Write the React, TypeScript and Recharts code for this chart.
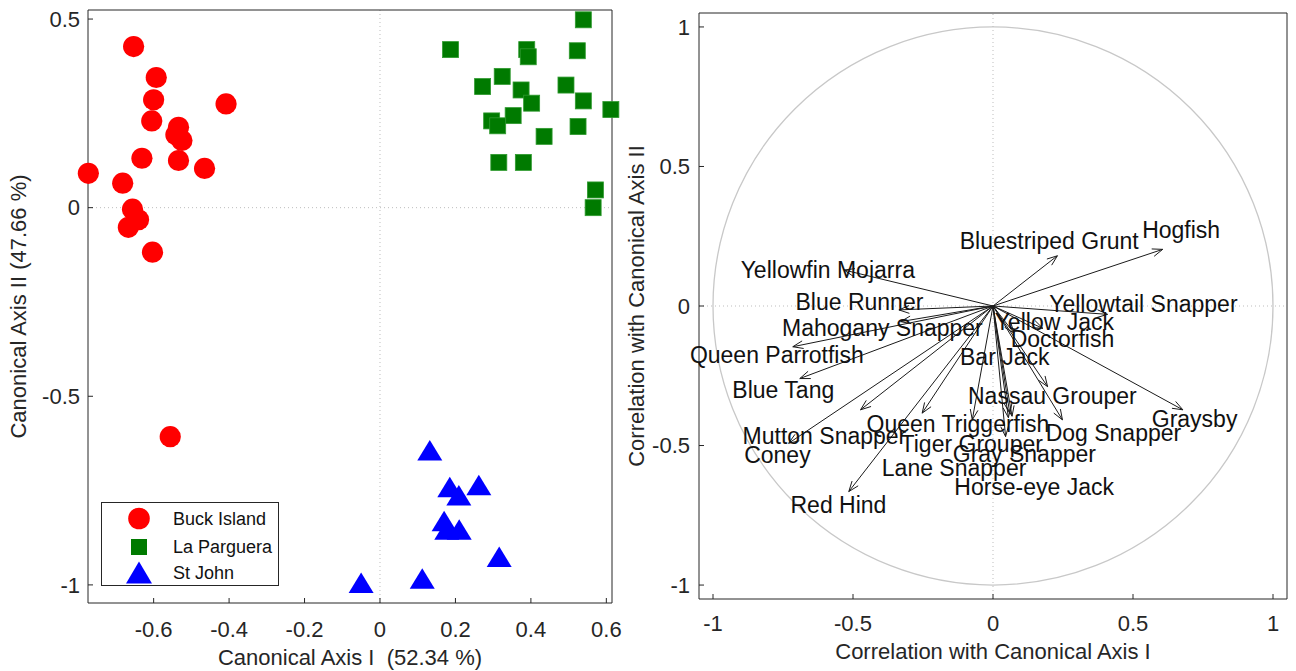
import React from 'react';
import {
  ScatterChart,
  Scatter,
  XAxis,
  YAxis,
  ReferenceLine,
  ReferenceArea,
  Legend,
  Label,
} from 'recharts';

// ---------- data: left panel (canonical scores) ----------
const buckIsland: [number, number][] = [
  [-0.653, 0.427], [-0.593, 0.345], [-0.6, 0.286], [-0.605, 0.23], [-0.408, 0.275],
  [-0.534, 0.213], [-0.541, 0.193], [-0.525, 0.178], [-0.534, 0.125], [-0.631, 0.131],
  [-0.465, 0.104], [-0.773, 0.091], [-0.682, 0.065], [-0.656, -0.004], [-0.64, -0.032],
  [-0.667, -0.052], [-0.603, -0.118], [-0.556, -0.607],
];
const laParguera: [number, number][] = [
  [0.539, 0.498], [0.187, 0.419], [0.389, 0.419], [0.393, 0.4], [0.523, 0.416],
  [0.324, 0.348], [0.272, 0.321], [0.493, 0.325], [0.374, 0.312], [0.539, 0.283],
  [0.402, 0.277], [0.612, 0.26], [0.353, 0.244], [0.296, 0.23], [0.312, 0.217],
  [0.525, 0.215], [0.435, 0.189], [0.315, 0.12], [0.38, 0.12], [0.571, 0.047],
  [0.565, 0.0],
];
const stJohn: [number, number][] = [
  [0.132, -0.644], [0.185, -0.741], [0.262, -0.736], [0.209, -0.763], [0.17, -0.831],
  [0.177, -0.854], [0.21, -0.854], [0.316, -0.926], [0.112, -0.984], [-0.05, -0.995],
];
const siteNames = ['Buck Island', 'La Parguera', 'St John'];

const leftXTicks = [-0.6, -0.4, -0.2, 0, 0.2, 0.4, 0.6];
const leftYTicks = [-1, -0.5, 0, 0.5];
const leftXDomain: [number, number] = [-0.774, 0.615];
const leftYDomain: [number, number] = [-1.048, 0.524];

// ---------- data: right panel (structure correlations) ----------
const species = [
  'Hogfish', 'Bluestriped Grunt', 'Yellowfin Mojarra', 'Blue Runner', 'Yellowtail Snapper',
  'Mahogany Snapper', 'Yellow Jack', 'Doctorfish', 'Queen Parrotfish', 'Bar Jack',
  'Blue Tang', 'Nassau Grouper', 'Graysby', 'Queen Triggerfish', 'Dog Snapper',
  'Mutton Snapper', 'Tiger Grouper', 'Coney', 'Gray Snapper', 'Lane Snapper',
  'Horse-eye Jack', 'Red Hind',
];
const corrI = [
  0.606, 0.23, -0.532, -0.336, 0.409,
  -0.33, 0.178, 0.075, -0.715, 0.055,
  -0.69, 0.195, 0.678, -0.253, 0.248,
  -0.73, -0.074, -0.473, 0.06, 0.045,
  0.068, -0.515,
];
const corrII = [
  0.203, 0.18, 0.129, -0.014, -0.03,
  -0.056, -0.08, -0.097, -0.146, -0.4,
  -0.26, -0.289, -0.372, -0.384, -0.408,
  -0.492, -0.408, -0.372, -0.385, -0.468,
  -0.395, -0.665,
];
// label centre positions (data units)
const labelI = [
  0.672, 0.201, -0.59, -0.477, 0.537,
  -0.395, 0.219, 0.248, -0.772, 0.042,
  -0.749, 0.212, 0.72, -0.125, 0.43,
  -0.602, -0.076, -0.77, 0.112, -0.139,
  0.147, -0.552,
];
const labelII = [
  0.272, 0.233, 0.129, 0.014, 0.007,
  -0.079, -0.057, -0.118, -0.175, -0.183,
  -0.301, -0.322, -0.405, -0.422, -0.455,
  -0.465, -0.494, -0.533, -0.53, -0.58,
  -0.648, -0.712,
];
const rightTicks = [-1, -0.5, 0, 0.5, 1];
const rightDomain: [number, number] = [-1.05, 1.05];

// ---------- styling ----------
const FONT = '"Liberation Sans", Arial, Helvetica, sans-serif';
const AXIS = '#262626';
const tickStyle = { fill: AXIS, fontSize: 22, fontFamily: FONT };

const toPts = (arr: [number, number][]) => arr.map(([x, y]) => ({ x, y }));
const buckData = toPts(buckIsland);
const parData = toPts(laParguera);
const stjData = toPts(stJohn);

const arrowData = species.map((name, i) => ({ name, x: corrI[i], y: corrII[i] }));
const labelData = species.map((name, i) => ({ name, x: labelI[i], y: labelII[i] }));

const CircleShape = (p: any) => <circle cx={p.cx} cy={p.cy} r={10.6} fill="#ff0000" />;
const SquareShape = (p: any) => (
  <rect x={p.cx - 8} y={p.cy - 8} width={16} height={16} fill="#007a00" stroke="#2f9a2f" strokeWidth={0.8} />
);
const TriangleShape = (p: any) => (
  <polygon
    points={`${p.cx},${p.cy - 10.5} ${p.cx - 12.5},${p.cy + 10} ${p.cx + 12.5},${p.cy + 10}`}
    fill="#0000ff"
  />
);

const ArrowShape = (p: any) => {
  const { x1, y1, x2, y2 } = p;
  const ang = Math.atan2(y2 - y1, x2 - x1);
  const L = 11;
  const a = 0.36;
  const hx1 = x2 - L * Math.cos(ang - a);
  const hy1 = y2 - L * Math.sin(ang - a);
  const hx2 = x2 - L * Math.cos(ang + a);
  const hy2 = y2 - L * Math.sin(ang + a);
  return (
    <g>
      <line x1={x1} y1={y1} x2={x2} y2={y2} stroke="#1a1a1a" strokeWidth={1} />
      <polyline points={`${hx1},${hy1} ${x2},${y2} ${hx2},${hy2}`} fill="none" stroke="#1a1a1a" strokeWidth={1} />
    </g>
  );
};

const SpeciesLabel = (p: any) => (
  <text
    x={p.cx}
    y={p.cy}
    textAnchor="middle"
    dominantBaseline="central"
    fontSize={23}
    fontFamily={FONT}
    fill="#111"
  >
    {p.payload.name}
  </text>
);

const UnitCircle = (p: any) => (
  <ellipse
    cx={p.x + p.width / 2}
    cy={p.y + p.height / 2}
    rx={Math.abs(p.width / 2)}
    ry={Math.abs(p.height / 2)}
    fill="none"
    stroke="#c8c8c8"
    strokeWidth={1.3}
  />
);

const NoShape = () => <g />;

const xLabel = (text: string, dy: number) => (props: any) => {
  const vb = props.viewBox;
  return (
    <text
      x={vb.x + vb.width / 2}
      y={vb.y + dy}
      textAnchor="middle"
      dominantBaseline="central"
      fontSize={22}
      fontFamily={FONT}
      fill={AXIS}
      style={{ whiteSpace: 'pre' }}
    >
      {text}
    </text>
  );
};
const yLabel = (text: string, dx: number) => (props: any) => {
  const vb = props.viewBox;
  const cx = vb.x + dx;
  const cy = vb.y + vb.height / 2;
  return (
    <text
      x={cx}
      y={cy}
      transform={`rotate(-90, ${cx}, ${cy})`}
      textAnchor="middle"
      dominantBaseline="central"
      fontSize={22}
      fontFamily={FONT}
      fill={AXIS}
    >
      {text}
    </text>
  );
};

const legendShapes = [
  (cx: number, cy: number) => <circle cx={cx} cy={cy} r={10.8} fill="#ff0000" />,
  (cx: number, cy: number) => <rect x={cx - 8} y={cy - 8} width={16} height={16} fill="#007a00" />,
  (cx: number, cy: number) => (
    <polygon points={`${cx},${cy - 11} ${cx - 13},${cy + 11} ${cx + 13},${cy + 11}`} fill="#0000ff" />
  ),
];

const LegendBox = (props: any) => {
  const payload = props.payload || [];
  const rows = [15.5, 44, 69.5];
  const names = siteNames.map((n, i) => (payload[i] && payload[i].value) || n);
  return (
    <div
      style={{
        width: 178,
        height: 84,
        border: `1px solid ${AXIS}`,
        background: '#fff',
        boxSizing: 'border-box',
      }}
    >
      <svg width={176} height={82}>
        {names.map((n, i) => (
          <g key={n}>
            {legendShapes[i](37, rows[i])}
            <text x={71} y={rows[i]} dominantBaseline="central" fontSize={18} fontFamily={FONT} fill="#111">
              {n}
            </text>
          </g>
        ))}
      </svg>
    </div>
  );
};

const axisCommon = {
  stroke: AXIS,
  tickSize: -5,
} as any;

export default function App() {
  return (
    <div style={{ position: 'absolute', left: 0, top: 0, width: 1296, height: 671, background: '#fff' }}>
      {/* Left panel */}
      <div style={{ position: 'absolute', left: 0, top: 0 }}>
        <ScatterChart width={640} height={671} margin={{ top: 9, right: 27, bottom: 28, left: 0 }}>
          <XAxis
            {...axisCommon}
            xAxisId="b"
            type="number"
            dataKey="x"
            domain={leftXDomain}
            ticks={leftXTicks}
            height={40}
            tickMargin={23}
            tick={tickStyle}
            interval={0}
          >
            <Label content={xLabel('Canonical Axis I  (52.34 %)', 54)} />
          </XAxis>
          <XAxis
            {...axisCommon}
            xAxisId="t"
            orientation="top"
            type="number"
            dataKey="x"
            domain={leftXDomain}
            ticks={leftXTicks}
            height={1}
            tick={false}
            interval={0}
          />
          <YAxis
            {...axisCommon}
            yAxisId="l"
            type="number"
            dataKey="y"
            domain={leftYDomain}
            ticks={leftYTicks}
            width={88}
            tickMargin={13}
            tick={tickStyle}
            interval={0}
          >
            <Label content={yLabel('Canonical Axis II (47.66 %)', 18)} />
          </YAxis>
          <YAxis
            {...axisCommon}
            yAxisId="r"
            orientation="right"
            type="number"
            dataKey="y"
            domain={leftYDomain}
            ticks={leftYTicks}
            width={1}
            tick={false}
            interval={0}
          />
          <ReferenceLine xAxisId="b" yAxisId="l" x={0} stroke="#bdbdbd" strokeDasharray="1 3" />
          <ReferenceLine xAxisId="b" yAxisId="l" y={0} stroke="#bdbdbd" strokeDasharray="1 3" />
          <Scatter
            xAxisId="b"
            yAxisId="l"
            name={siteNames[0]}
            data={buckData}
            fill="#ff0000"
            shape={CircleShape}
            isAnimationActive={false}
          />
          <Scatter
            xAxisId="b"
            yAxisId="l"
            name={siteNames[1]}
            data={parData}
            fill="#007a00"
            shape={SquareShape}
            isAnimationActive={false}
          />
          <Scatter
            xAxisId="b"
            yAxisId="l"
            name={siteNames[2]}
            data={stjData}
            fill="#0000ff"
            shape={TriangleShape}
            isAnimationActive={false}
          />
          <Scatter
            xAxisId="t"
            yAxisId="r"
            name="frame"
            data={buckData}
            shape={NoShape}
            legendType="none"
            isAnimationActive={false}
          />
          <Legend
            layout="vertical"
            align="center"
            verticalAlign="middle"
            content={LegendBox}
            wrapperStyle={{ position: 'absolute', left: 101, top: 502, width: 178, height: 84 }}
          />
        </ScatterChart>
      </div>

      {/* Right panel */}
      <div style={{ position: 'absolute', left: 620, top: 0 }}>
        <ScatterChart width={676} height={671} margin={{ top: 12, right: 8, bottom: 30, left: 0 }}>
          <XAxis
            {...axisCommon}
            xAxisId="b"
            type="number"
            dataKey="x"
            domain={rightDomain}
            ticks={rightTicks}
            height={42}
            tickMargin={21}
            tick={tickStyle}
            interval={0}
          >
            <Label content={xLabel('Correlation with Canonical Axis I', 52)} />
          </XAxis>
          <XAxis
            {...axisCommon}
            xAxisId="t"
            orientation="top"
            type="number"
            dataKey="x"
            domain={rightDomain}
            ticks={rightTicks}
            height={1}
            tick={false}
            interval={0}
          />
          <YAxis
            {...axisCommon}
            yAxisId="l"
            type="number"
            dataKey="y"
            domain={rightDomain}
            ticks={rightTicks}
            width={79}
            tickMargin={14}
            tick={tickStyle}
            interval={0}
          >
            <Label content={yLabel('Correlation with Canonical Axis II', 16)} />
          </YAxis>
          <YAxis
            {...axisCommon}
            yAxisId="r"
            orientation="right"
            type="number"
            dataKey="y"
            domain={rightDomain}
            ticks={rightTicks}
            width={1}
            tick={false}
            interval={0}
          />
          <ReferenceLine xAxisId="b" yAxisId="l" x={0} stroke="#bdbdbd" strokeDasharray="1 3" />
          <ReferenceLine xAxisId="b" yAxisId="l" y={0} stroke="#bdbdbd" strokeDasharray="1 3" />
          <ReferenceArea
            xAxisId="b"
            yAxisId="l"
            x1={-1}
            x2={1}
            y1={-1}
            y2={1}
            ifOverflow="visible"
            shape={UnitCircle}
          />
          {arrowData.map((a) => (
            <ReferenceLine
              key={a.name}
              xAxisId="b"
              yAxisId="l"
              segment={[{ x: 0, y: 0 }, { x: a.x, y: a.y }]}
              shape={ArrowShape}
              ifOverflow="visible"
            />
          ))}
          <Scatter
            xAxisId="b"
            yAxisId="l"
            name="labels"
            data={labelData}
            shape={SpeciesLabel}
            isAnimationActive={false}
          />
          <Scatter
            xAxisId="t"
            yAxisId="r"
            name="frame"
            data={labelData}
            shape={NoShape}
            legendType="none"
            isAnimationActive={false}
          />
        </ScatterChart>
      </div>
    </div>
  );
}
